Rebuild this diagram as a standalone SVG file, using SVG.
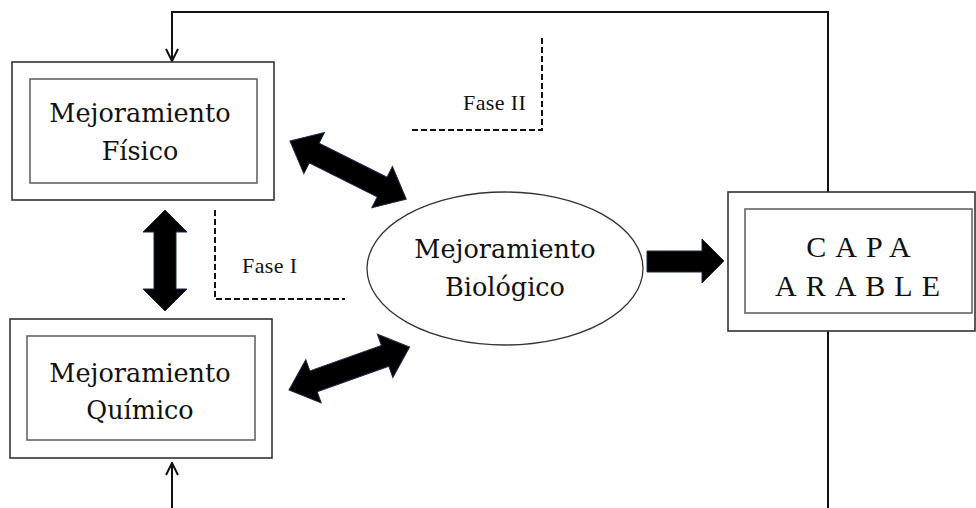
<svg xmlns="http://www.w3.org/2000/svg" width="976" height="508" viewBox="0 0 976 508">
<defs>
<style>
.outer{fill:#fff;stroke:#333;stroke-width:1.6}
.inner{fill:#fff;stroke:#666;stroke-width:1.6}
.lbl{font-family:"DejaVu Serif","Liberation Serif",serif;font-size:25.5px;fill:#111;text-anchor:middle}
.cap{font-family:"Liberation Serif",serif;font-size:30px;fill:#111;text-anchor:middle;letter-spacing:9px}
.fase{font-family:"Liberation Serif",serif;font-size:22px;fill:#111;letter-spacing:0.4px}
.line{fill:none;stroke:#111;stroke-width:2}
.dash{fill:none;stroke:#111;stroke-width:2;stroke-dasharray:6 3}
.big{fill:#000;stroke:#1a2a44;stroke-width:1}
</style>
<marker id="open" viewBox="0 0 14 14" refX="13" refY="7" markerWidth="14" markerHeight="14" markerUnits="userSpaceOnUse" orient="auto">
<path d="M1,1 L13,7 L1,13" fill="none" stroke="#111" stroke-width="2"/>
</marker>
</defs>
<g id="connectors">
<path class="line" d="M828,192 L828,12 L172,12 L172,61" marker-end="url(#open)"/>
<path class="line" d="M828,331 L828,508"/>
<path class="line" d="M172,508 L172,463" marker-end="url(#open)"/>
<path class="dash" d="M542,38 L542,130 L412,130"/>
<path class="dash" d="M215,210 L215,299 L345,299"/>
<path class="big" transform="translate(165,210) rotate(90)" d="M0,0 L22,-22 L22,-11 L79,-11 L79,-22 L101,0 L79,22 L79,11 L22,11 L22,22 Z"/>
<path class="big" transform="translate(290,141) rotate(26.57)" d="M0,0 L27,-23 L27,-11 L103,-11 L103,-23 L130,0 L103,23 L103,11 L27,11 L27,23 Z"/>
<path class="big" transform="translate(289,390) rotate(-19.57)" d="M0,0 L26,-23 L26,-11 L102,-11 L102,-23 L128,0 L102,23 L102,11 L26,11 L26,23 Z"/>
<path class="big" d="M647,251 L702,251 L702,239 L724,261 L702,283 L702,272 L647,272 Z"/>
</g>
<g id="fase2"><text class="fase" x="463" y="110">Fase II</text></g>
<g id="fase1"><text class="fase" x="242" y="273">Fase I</text></g>
<g id="fisico">
<rect class="outer" x="12" y="62" width="262" height="138"/>
<rect class="inner" x="30" y="79" width="227" height="104"/>
<text class="lbl" x="140" y="122">Mejoramiento</text>
<text class="lbl" x="140" y="160">Físico</text>
</g>
<g id="quimico">
<rect class="outer" x="10" y="319" width="262" height="139"/>
<rect class="inner" x="27" y="336" width="228" height="104"/>
<text class="lbl" x="140" y="382">Mejoramiento</text>
<text class="lbl" x="140" y="419">Químico</text>
</g>
<g id="biologico">
<ellipse cx="505" cy="268.5" rx="138" ry="76.5" fill="#fff" stroke="#333" stroke-width="1.3"/>
<text class="lbl" x="505" y="258">Mejoramiento</text>
<text class="lbl" x="505" y="296">Biológico</text>
</g>
<g id="capa">
<rect class="outer" x="728" y="192" width="247" height="139"/>
<rect class="inner" x="745" y="209" width="227" height="104"/>
<text class="cap" x="863" y="257">CAPA</text>
<text class="cap" x="862" y="296">ARABLE</text>
</g>
</svg>
